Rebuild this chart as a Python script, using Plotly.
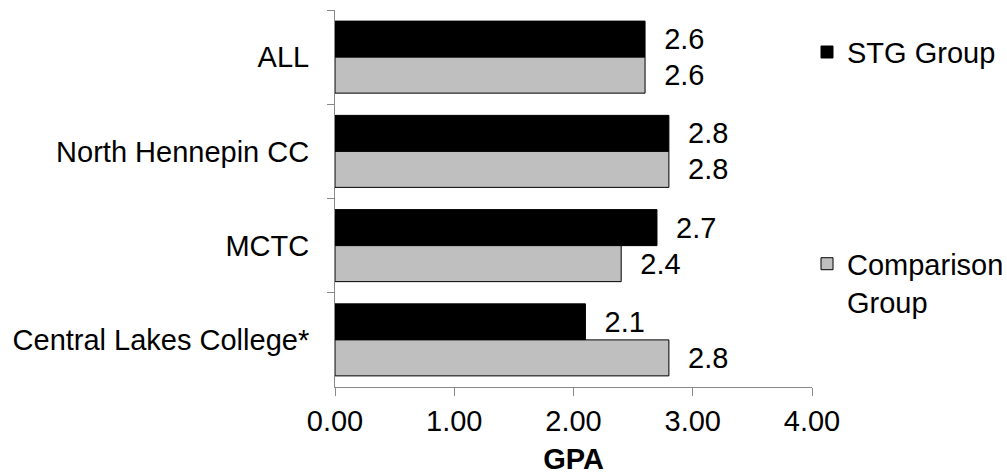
import plotly.graph_objects as go

categories = ["ALL", "North Hennepin CC", "MCTC", "Central Lakes College*"]
stg_values = [2.6, 2.8, 2.7, 2.1]
comparison_values = [2.6, 2.8, 2.4, 2.8]
series_names = ["STG Group", "Comparison<br>Group"]
x_ticks = [0, 1, 2, 3, 4]
x_tick_labels = ["0.00", "1.00", "2.00", "3.00", "4.00"]

FONT = "Liberation Sans, Arial, sans-serif"
FS = 29
AXIS_COLOR = "#898989"
NB = "\u00a0\u00a0"

fig = go.Figure()
fig.add_trace(go.Bar(
    y=categories, x=stg_values, orientation="h", name=series_names[0],
    marker=dict(color="#000000", line=dict(color="#000000", width=1)),
    text=[f"{NB}{v:.1f}" for v in stg_values], textposition="outside",
    textfont=dict(family=FONT, size=FS, color="#000000"),
    constraintext="none", cliponaxis=False, legendgroup="a",
))
fig.add_trace(go.Bar(
    y=categories, x=comparison_values, orientation="h", name=series_names[1],
    marker=dict(color="#BFBFBF", line=dict(color="#000000", width=1)),
    text=[f"{NB}{v:.1f}" for v in comparison_values], textposition="outside",
    textfont=dict(family=FONT, size=FS, color="#000000"),
    constraintext="none", cliponaxis=False, legendgroup="b",
))

fig.update_layout(
    width=1007, height=476,
    margin=dict(l=334.5, r=194.5, t=10, b=89, pad=0, autoexpand=False),
    paper_bgcolor="white", plot_bgcolor="white",
    font=dict(family=FONT, size=FS, color="#000000"),
    barmode="group", bargap=0.236, bargroupgap=0,
    legend=dict(
        xref="container", yref="container",
        x=0.8014, y=0.944, xanchor="left", yanchor="top",
        traceorder="grouped", tracegroupgap=171, valign="top",
        maxheight=470,
        font=dict(family=FONT, size=FS, color="#000000"),
        bgcolor="rgba(0,0,0,0)",
    ),
    xaxis=dict(
        range=[0, 4], tickvals=x_ticks, ticktext=x_tick_labels,
        showgrid=False, zeroline=False, showline=True, linecolor=AXIS_COLOR, linewidth=1,
        ticks="outside", ticklen=8, tickcolor=AXIS_COLOR, tickwidth=1,
        tickfont=dict(family=FONT, size=FS, color="#000000"),
        title=dict(text="<b>GPA</b>", font=dict(family=FONT, size=FS, color="#000000"), standoff=12),
        fixedrange=True,
    ),
    yaxis=dict(
        categoryorder="array", categoryarray=categories, autorange="reversed",
        showgrid=False, zeroline=False, showline=True, linecolor=AXIS_COLOR, linewidth=1,
        ticks="outside", ticklen=7, tickcolor=AXIS_COLOR, tickwidth=1, tickson="boundaries",
        tickfont=dict(family=FONT, size=FS, color="#000000"),
        ticklabelstandoff=19,
        fixedrange=True,
    ),
)

fig.write_html("out.html")
